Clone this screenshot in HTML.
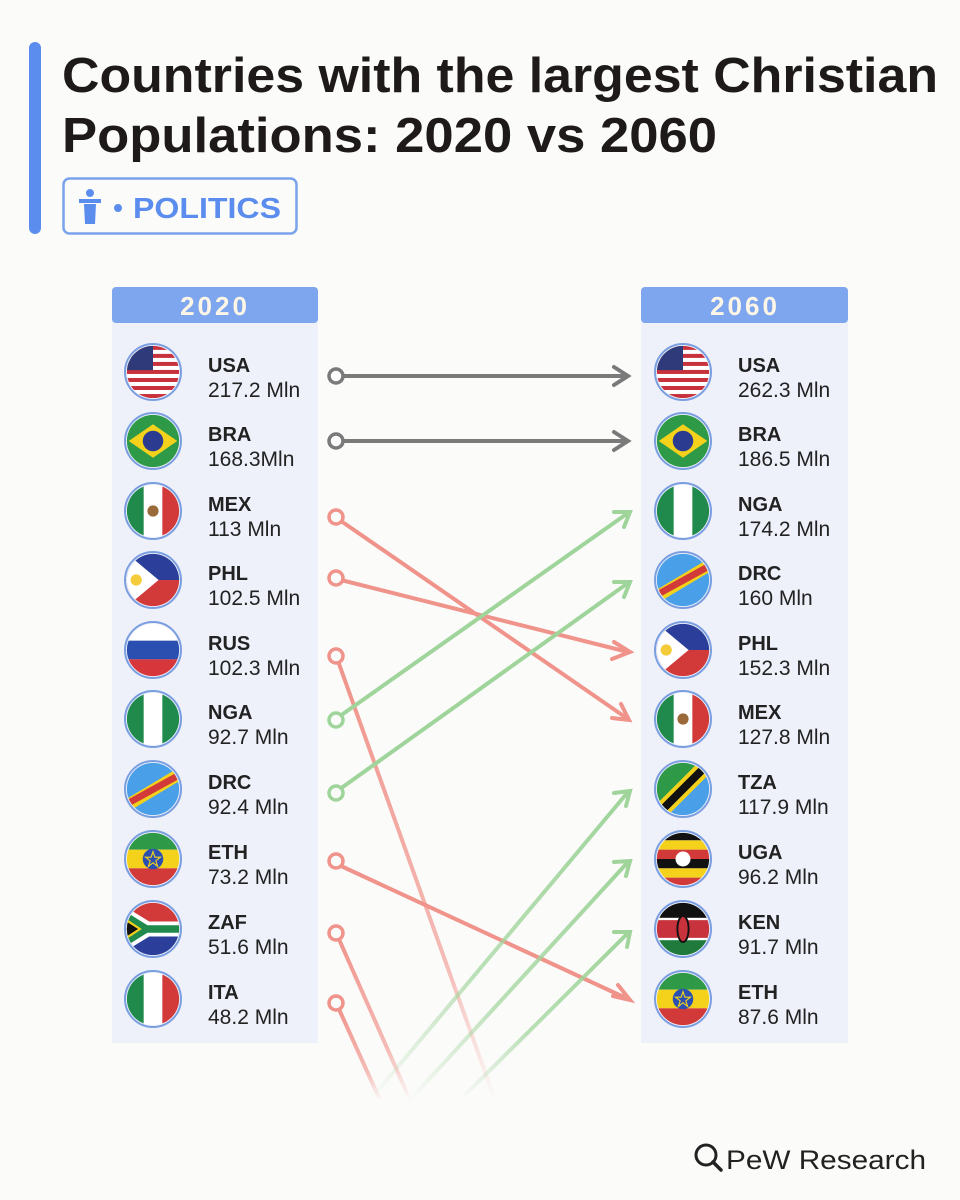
<!DOCTYPE html>
<html><head><meta charset="utf-8"><style>
body{margin:0;background:#fbfbfa;}
svg{display:block}
text{font-family:"Liberation Sans","DejaVu Sans",sans-serif}
</style></head><body>
<svg width="960" height="1200" viewBox="0 0 960 1200" xmlns="http://www.w3.org/2000/svg">
<defs>
<clipPath id="c"><circle cx="0" cy="0" r="28"/></clipPath>
<linearGradient id="fr" x1="0" y1="0" x2="0" y2="1"><stop offset="0" stop-color="#f0938a" stop-opacity="1"/><stop offset="0.7" stop-color="#f0938a" stop-opacity="0.6"/><stop offset="1" stop-color="#f0938a" stop-opacity="0"/></linearGradient>
<linearGradient id="fg" x1="0" y1="1" x2="0" y2="0"><stop offset="0" stop-color="#9fd49a" stop-opacity="0"/><stop offset="0.4" stop-color="#9fd49a" stop-opacity="0.7"/><stop offset="1" stop-color="#9fd49a" stop-opacity="1"/></linearGradient>
<symbol id="USA" viewBox="-30 -30 60 60" overflow="visible"><g clip-path="url(#c)"><rect x="-30" y="-30" width="60" height="60" fill="#fff"/>
<g fill="#c8323c"><rect x="-30" y="-28" width="60" height="4.3"/><rect x="-30" y="-19.4" width="60" height="4.3"/><rect x="-30" y="-10.8" width="60" height="4.3"/><rect x="-30" y="-2.2" width="60" height="4.3"/><rect x="-30" y="6.4" width="60" height="4.3"/><rect x="-30" y="15" width="60" height="4.3"/><rect x="-30" y="23.6" width="60" height="4.3"/></g>
<rect x="-30" y="-30" width="30" height="28" fill="#2f3a7a"/></g></symbol>
<symbol id="BRA" viewBox="-30 -30 60 60" overflow="visible"><g clip-path="url(#c)"><rect x="-30" y="-30" width="60" height="60" fill="#2e9a48"/><polygon points="-26,0 0,-18 26,0 0,18" fill="#f4d21c"/><circle r="11" fill="#2b3b8f"/></g></symbol>
<symbol id="MEX" viewBox="-30 -30 60 60" overflow="visible"><g clip-path="url(#c)"><rect x="-30" y="-30" width="60" height="60" fill="#fff"/><rect x="-30" y="-30" width="20" height="60" fill="#1f8a4c"/><rect x="10" y="-30" width="20" height="60" fill="#d23a3a"/><circle r="6" fill="#9a6a3a"/></g></symbol>
<symbol id="PHL" viewBox="-30 -30 60 60" overflow="visible"><g clip-path="url(#c)"><rect x="-30" y="-30" width="60" height="30" fill="#2a3e9a"/><rect x="-30" y="0" width="60" height="30" fill="#d23a3a"/><polygon points="-30,-30 6,0 -30,30" fill="#fff"/><circle cx="-18" cy="0" r="6" fill="#f4cc3a"/></g></symbol>
<symbol id="RUS" viewBox="-30 -30 60 60" overflow="visible"><g clip-path="url(#c)"><rect x="-30" y="-30" width="60" height="20" fill="#fff"/><rect x="-30" y="-10" width="60" height="20" fill="#2a4fb0"/><rect x="-30" y="10" width="60" height="20" fill="#d7363a"/></g></symbol>
<symbol id="NGA" viewBox="-30 -30 60 60" overflow="visible"><g clip-path="url(#c)"><rect x="-30" y="-30" width="60" height="60" fill="#fff"/><rect x="-30" y="-30" width="20" height="60" fill="#1f8a4c"/><rect x="10" y="-30" width="20" height="60" fill="#1f8a4c"/></g></symbol>
<symbol id="DRC" viewBox="-30 -30 60 60" overflow="visible"><g clip-path="url(#c)"><rect x="-30" y="-30" width="60" height="60" fill="#4aa0e8"/><polygon points="-34,14 26,-22 34,-12 -26,24" fill="#f4d21c"/><polygon points="-32,14 28,-19 32,-13 -28,20" fill="#d23a3a"/></g></symbol>
<symbol id="ETH" viewBox="-30 -30 60 60" overflow="visible"><g clip-path="url(#c)"><rect x="-30" y="-30" width="60" height="20" fill="#2e9a48"/><rect x="-30" y="-10" width="60" height="20" fill="#f4d21c"/><rect x="-30" y="10" width="60" height="20" fill="#d23a3a"/><circle r="11" fill="#2a4fb0"/><polygon points="0,-8 2,-2 8,-2 3,2 5,8 0,4 -5,8 -3,2 -8,-2 -2,-2" fill="none" stroke="#f4d21c" stroke-width="1.2"/></g></symbol>
<symbol id="ZAF" viewBox="-30 -30 60 60" overflow="visible"><g clip-path="url(#c)"><rect x="-30" y="-30" width="60" height="30" fill="#d23a3a"/><rect x="-30" y="0" width="60" height="30" fill="#2a3e9a"/><polygon points="-30,-24 -4,-8 30,-8 30,8 -4,8 -30,24" fill="#fff"/><polygon points="-30,-19 -6,-4 30,-4 30,4 -6,4 -30,19" fill="#1f8a4c"/><polygon points="-30,-12 -12,0 -30,12" fill="#f4d21c"/><polygon points="-30,-9 -16,0 -30,9" fill="#111"/></g></symbol>
<symbol id="ITA" viewBox="-30 -30 60 60" overflow="visible"><g clip-path="url(#c)"><rect x="-30" y="-30" width="60" height="60" fill="#fff"/><rect x="-30" y="-30" width="20" height="60" fill="#1f8a4c"/><rect x="10" y="-30" width="20" height="60" fill="#d23a3a"/></g></symbol>
<symbol id="TZA" viewBox="-30 -30 60 60" overflow="visible"><g clip-path="url(#c)"><polygon points="-30,-30 30,-30 -30,30" fill="#2e9a48"/><polygon points="30,-30 30,30 -30,30" fill="#4aa0e8"/><polygon points="-34,22 22,-34 34,-22 -22,34" fill="#f4d21c"/><polygon points="-32,26 26,-32 32,-26 -26,32" fill="#111"/></g></symbol>
<symbol id="UGA" viewBox="-30 -30 60 60" overflow="visible"><g clip-path="url(#c)"><rect x="-30" y="-30" width="60" height="10" fill="#111"/><rect x="-30" y="-20" width="60" height="10" fill="#f4d21c"/><rect x="-30" y="-10" width="60" height="10" fill="#d23a3a"/><rect x="-30" y="0" width="60" height="10" fill="#111"/><rect x="-30" y="10" width="60" height="10" fill="#f4d21c"/><rect x="-30" y="20" width="60" height="10" fill="#d23a3a"/><circle r="8" fill="#fff"/></g></symbol>
<symbol id="KEN" viewBox="-30 -30 60 60" overflow="visible"><g clip-path="url(#c)"><rect x="-30" y="-30" width="60" height="20" fill="#111"/><rect x="-30" y="-10" width="60" height="20" fill="#c8323c"/><rect x="-30" y="10" width="60" height="20" fill="#1f7a3c"/><rect x="-30" y="-12" width="60" height="2.5" fill="#fff"/><rect x="-30" y="9.5" width="60" height="2.5" fill="#fff"/><ellipse rx="6" ry="14" fill="#c8323c" stroke="#111" stroke-width="2"/></g></symbol>
</defs>

<rect x="29" y="42" width="12" height="192" rx="6" fill="#5b8def"/>
<text x="62" y="92" font-size="49" font-weight="bold" fill="#1e1a1a" textLength="876" lengthAdjust="spacingAndGlyphs">Countries with the largest Christian</text>
<text x="62" y="152" font-size="49" font-weight="bold" fill="#1e1a1a" textLength="655" lengthAdjust="spacingAndGlyphs">Populations: 2020 vs 2060</text>
<rect x="63.5" y="178.5" width="233" height="55" rx="6" fill="none" stroke="#7aa3ec" stroke-width="2.5"/>
<circle cx="90" cy="193" r="4" fill="#5b8def"/>
<rect x="79" y="199" width="22" height="4" fill="#5b8def"/><path d="M84 204 h12 l-1 20 h-10z" fill="#5b8def"/>
<circle cx="118" cy="208" r="4" fill="#5b8def"/>
<text x="133" y="218" font-size="29" font-weight="bold" fill="#5b8def" textLength="148" lengthAdjust="spacingAndGlyphs">POLITICS</text>

<rect x="112" y="300" width="206" height="743" fill="#eef1fa"/>
<rect x="641" y="300" width="207" height="743" fill="#eef1fa"/>
<rect x="112" y="287" width="206" height="36" rx="4" fill="#7ea6ee"/>
<rect x="641" y="287" width="207" height="36" rx="4" fill="#7ea6ee"/>
<text x="215" y="315" font-size="26" font-weight="bold" fill="#fdf6e6" text-anchor="middle" letter-spacing="3">2020</text>
<text x="745" y="315" font-size="26" font-weight="bold" fill="#fdf6e6" text-anchor="middle" letter-spacing="3">2060</text>

<g stroke-width="4" fill="none" stroke-linecap="round">
<line x1="342" y1="376" x2="626" y2="376" stroke="#7a7a7a"/><path d="M614 367 L628 376 L614 385" stroke="#7a7a7a"/>
<line x1="342" y1="441" x2="626" y2="441" stroke="#7a7a7a"/><path d="M614 432 L628 441 L614 450" stroke="#7a7a7a"/>
<g stroke="#f0938a">
<line x1="341" y1="521" x2="628" y2="719"/><path d="M612 718 L629 720 L621 704"/>
<line x1="341" y1="580" x2="628" y2="652"/><path d="M614 642 L630 652 L612 659"/>
<line x1="341" y1="866" x2="628" y2="999"/><path d="M613 996 L630 1000 L618 985"/>
</g>
<g stroke="url(#fr)">
<line x1="338" y1="661" x2="495" y2="1100"/>
<line x1="338" y1="937" x2="410" y2="1100"/>
<line x1="338" y1="1007" x2="380" y2="1100"/>
</g>
<g stroke="#9fd49a">
<line x1="340" y1="716" x2="628" y2="513"/><path d="M614 512 L630 512 L624 527"/>
<line x1="340" y1="789" x2="628" y2="583"/><path d="M614 582 L630 582 L624 597"/>
</g>
<g stroke="url(#fg)">
<path d="M370 1100 L628 792 M614 793 L630 791 L626 806"/>
<path d="M410 1100 L628 862 M614 862 L630 861 L626 876"/>
<path d="M460 1100 L628 933 M614 932 L630 932 L627 947"/>
</g>
<g stroke-width="3.5" fill="#fbfbfa">
<circle cx="336" cy="376" r="7" stroke="#7a7a7a"/><circle cx="336" cy="441" r="7" stroke="#7a7a7a"/>
<circle cx="336" cy="517" r="7" stroke="#f0938a"/><circle cx="336" cy="578" r="7" stroke="#f0938a"/>
<circle cx="336" cy="656" r="7" stroke="#f0938a"/><circle cx="336" cy="720" r="7" stroke="#9fd49a"/>
<circle cx="336" cy="793" r="7" stroke="#9fd49a"/><circle cx="336" cy="861" r="7" stroke="#f0938a"/>
<circle cx="336" cy="933" r="7" stroke="#f0938a"/><circle cx="336" cy="1003" r="7" stroke="#f0938a"/>
</g>
</g>

<g font-size="21" fill="#222">
<g>
<use href="#USA" x="125" y="344" width="56" height="56"/><use href="#BRA" x="125" y="413" width="56" height="56"/>
<use href="#MEX" x="125" y="483" width="56" height="56"/><use href="#PHL" x="125" y="552" width="56" height="56"/>
<use href="#RUS" x="125" y="622" width="56" height="56"/><use href="#NGA" x="125" y="691" width="56" height="56"/>
<use href="#DRC" x="125" y="761" width="56" height="56"/><use href="#ETH" x="125" y="831" width="56" height="56"/>
<use href="#ZAF" x="125" y="901" width="56" height="56"/><use href="#ITA" x="125" y="971" width="56" height="56"/>
</g>
<g>
<use href="#USA" x="655" y="344" width="56" height="56"/><use href="#BRA" x="655" y="413" width="56" height="56"/>
<use href="#NGA" x="655" y="483" width="56" height="56"/><use href="#DRC" x="655" y="552" width="56" height="56"/>
<use href="#PHL" x="655" y="622" width="56" height="56"/><use href="#MEX" x="655" y="691" width="56" height="56"/>
<use href="#TZA" x="655" y="761" width="56" height="56"/><use href="#UGA" x="655" y="831" width="56" height="56"/>
<use href="#KEN" x="655" y="901" width="56" height="56"/><use href="#ETH" x="655" y="971" width="56" height="56"/>
</g>
<g fill="none" stroke="#7a9ee0" stroke-width="2">
<circle cx="153" cy="372" r="28"/><circle cx="153" cy="441" r="28"/><circle cx="153" cy="511" r="28"/><circle cx="153" cy="580" r="28"/><circle cx="153" cy="650" r="28"/><circle cx="153" cy="719" r="28"/><circle cx="153" cy="789" r="28"/><circle cx="153" cy="859" r="28"/><circle cx="153" cy="929" r="28"/><circle cx="153" cy="999" r="28"/>
<circle cx="683" cy="372" r="28"/><circle cx="683" cy="441" r="28"/><circle cx="683" cy="511" r="28"/><circle cx="683" cy="580" r="28"/><circle cx="683" cy="650" r="28"/><circle cx="683" cy="719" r="28"/><circle cx="683" cy="789" r="28"/><circle cx="683" cy="859" r="28"/><circle cx="683" cy="929" r="28"/><circle cx="683" cy="999" r="28"/>
</g>
<g font-weight="bold" font-size="20">
<text x="208" y="372">USA</text><text x="208" y="441">BRA</text><text x="208" y="511">MEX</text><text x="208" y="580">PHL</text><text x="208" y="650">RUS</text><text x="208" y="719">NGA</text><text x="208" y="789">DRC</text><text x="208" y="859">ETH</text><text x="208" y="929">ZAF</text><text x="208" y="999">ITA</text>
<text x="738" y="372">USA</text><text x="738" y="441">BRA</text><text x="738" y="511">NGA</text><text x="738" y="580">DRC</text><text x="738" y="650">PHL</text><text x="738" y="719">MEX</text><text x="738" y="789">TZA</text><text x="738" y="859">UGA</text><text x="738" y="929">KEN</text><text x="738" y="999">ETH</text>
</g>
<g>
<text x="208" y="397">217.2 Mln</text><text x="208" y="466">168.3Mln</text><text x="208" y="536">113 Mln</text><text x="208" y="605">102.5 Mln</text><text x="208" y="675">102.3 Mln</text><text x="208" y="744">92.7 Mln</text><text x="208" y="814">92.4 Mln</text><text x="208" y="884">73.2 Mln</text><text x="208" y="954">51.6 Mln</text><text x="208" y="1024">48.2 Mln</text>
<text x="738" y="397">262.3 Mln</text><text x="738" y="466">186.5 Mln</text><text x="738" y="536">174.2 Mln</text><text x="738" y="605">160 Mln</text><text x="738" y="675">152.3 Mln</text><text x="738" y="744">127.8 Mln</text><text x="738" y="814">117.9 Mln</text><text x="738" y="884">96.2 Mln</text><text x="738" y="954">91.7 Mln</text><text x="738" y="1024">87.6 Mln</text>
</g>
</g>

<circle cx="706" cy="1155" r="10" fill="none" stroke="#222" stroke-width="3"/>
<line x1="713" y1="1162" x2="721" y2="1170" stroke="#222" stroke-width="3.5" stroke-linecap="round"/>
<text x="726" y="1169" font-size="27" fill="#222" textLength="200" lengthAdjust="spacingAndGlyphs">PeW Research</text>
</svg>
</body></html>
